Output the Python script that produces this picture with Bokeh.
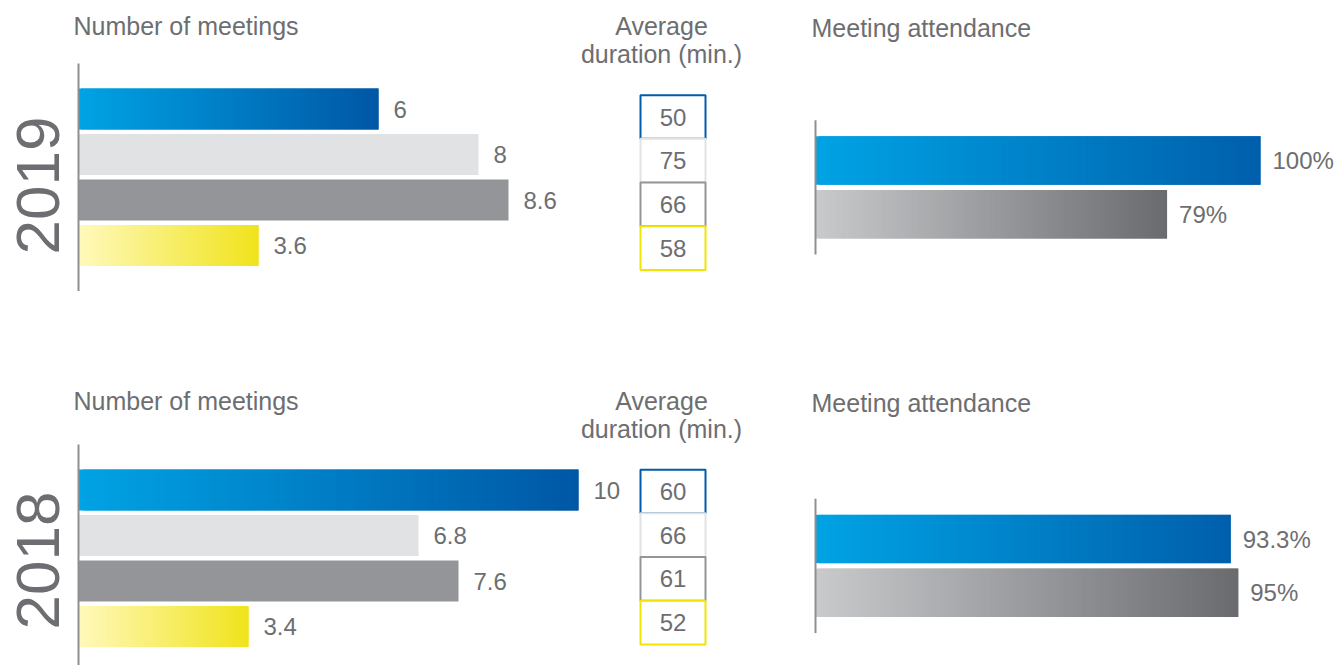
import numpy as np
from bokeh.plotting import figure
from bokeh.models import Range1d, Label
from bokeh.embed import file_html
from bokeh.resources import INLINE
from bokeh.core.properties import value

# ---- data -------------------------------------------------------------
years = ["2019", "2018"]
meetings_2019 = [6, 8, 8.6, 3.6]
meetings_2018 = [10, 6.8, 7.6, 3.4]
duration_2019 = [50, 75, 66, 58]
duration_2018 = [60, 66, 61, 52]
attendance_2019 = [100, 79]
attendance_2018 = [93.3, 95]

# ---- styles -----------------------------------------------------------
TEXT = "#6d6e71"
AXIS = "#8e8f92"
FONT_NAME = "Liberation Sans"
FONT = value(FONT_NAME)
meeting_fills = [("#00a3e4", "#0057a5"), ("#e1e2e4", "#e1e2e4"),
                 ("#939598", "#939598"), ("#fff9bb", "#f0e31c")]
duration_edges = ["#005baa", "#e1e2e4", "#939598", "#f0e400"]
attendance_fills = [("#00a3e4", "#005fac"), ("#c9cacc", "#6a6b6f")]

W, H = 1343, 665


def hx(c):
    c = c.lstrip("#")
    return np.array([int(c[i:i + 2], 16) for i in (0, 2, 4)], dtype=float)


def mix(c0, c1, t):
    r, g, b = (hx(c0) * (1 - t) + hx(c1) * t).round().astype(int)
    return f"#{r:02x}{g:02x}{b:02x}"


def x_axis_range(origin_px, px_per_unit):
    return Range1d(start=-origin_px / px_per_unit, end=(W - origin_px) / px_per_unit)


def y_rows_range(origin_px, px_per_unit):
    # row index grows downwards
    return Range1d(start=(H - origin_px) / px_per_unit, end=-origin_px / px_per_unit)


p = figure(width=W, height=H, output_backend="svg", toolbar_location=None,
           x_range=Range1d(0, W), y_range=Range1d(H, 0),
           x_axis_type=None, y_axis_type=None, min_border=0)
p.outline_line_color = None
p.background_fill_color = "white"
p.border_fill_color = "white"

p.extra_x_ranges = {
    "meet": x_axis_range(78, 50.0),
    "dur": x_axis_range(672.5, 65.0),
    "att": x_axis_range(815, 4.45),
}
p.extra_y_ranges = {
    "meet2019": y_rows_range(108.5, 45.5),
    "meet2018": y_rows_range(489.5, 45.5),
    "dur2019": y_rows_range(116.5, 43.7),
    "dur2018": y_rows_range(491.0, 43.7),
    "att2019": y_rows_range(160.0, 53.75),
    "att2018": y_rows_range(538.5, 53.75),
}


def bar(v, row, c0, c1, xr, yr, h=0.9, n=120):
    """Horizontal bar from 0 to v; a two-colour pair gives a left-to-right gradient."""
    if c0 == c1:
        p.quad(left=[0], right=[v], top=[row - h / 2], bottom=[row + h / 2],
               fill_color=c0, line_color=None, x_range_name=xr, y_range_name=yr)
        return
    edges = [v * i / n for i in range(n + 1)]
    cols = [mix(c0, c1, (i + 0.5) / n) for i in range(n)]
    # every strip reaches over its right neighbour so no gaps show between strips
    rights = [edges[min(i + 2, n)] for i in range(n)]
    p.quad(left=edges[:-1], right=rights, top=[row - h / 2] * n,
           bottom=[row + h / 2] * n, fill_color=cols, line_color=None,
           x_range_name=xr, y_range_name=yr)


def label_text(**kw):
    p.add_layout(Label(text_font=FONT_NAME, text_color=TEXT, **kw))


panels = [
    ("2019", meetings_2019, duration_2019, attendance_2019, 0),
    ("2018", meetings_2018, duration_2018, attendance_2018, 375),
]

for year, meet, dur, att, dy in panels:
    my, dyn, ay = f"meet{year}", f"dur{year}", f"att{year}"
    rows_m = list(range(len(meet)))
    rows_a = list(range(len(att)))

    # section titles
    label_text(x=73, y=25 + dy, text="Number of meetings", text_font_size="25px",
               text_baseline="middle", text_align="left")
    label_text(x=661, y=25 + dy, text="Average", text_font_size="25px",
               text_baseline="middle", text_align="center")
    label_text(x=661, y=53 + dy, text="duration (min.)", text_font_size="25px",
               text_baseline="middle", text_align="center")
    label_text(x=811, y=27 + dy, text="Meeting attendance", text_font_size="25px",
               text_baseline="middle", text_align="left")

    # year
    p.text(x=[37], y=[185 + dy], text=[year], angle=np.pi / 2,
           text_align="center", text_baseline="middle",
           text_font=FONT, text_font_size="62px", text_color=TEXT)

    # number of meetings
    for r, v in zip(rows_m, meet):
        c0, c1 = meeting_fills[r]
        bar(v, r, c0, c1, "meet", my)
    p.segment(x0=[0], x1=[0], y0=[-1], y1=[len(meet)], line_color=AXIS, line_width=2,
              x_range_name="meet", y_range_name=my)
    p.text(x=meet, y=rows_m, text=[f"{v:g}" for v in meet], x_offset=15,
           text_align="left", text_baseline="middle",
           text_font=FONT, text_font_size="24px", text_color=TEXT,
           x_range_name="meet", y_range_name=my)

    # average duration boxes
    p.rect(x=[0] * len(dur), y=rows_m, width=1, height=1, fill_color="white",
           line_color=duration_edges, line_width=2,
           x_range_name="dur", y_range_name=dyn)
    p.text(x=[0] * len(dur), y=rows_m, text=[f"{v:g}" for v in dur],
           text_align="center", text_baseline="middle",
           text_font=FONT, text_font_size="24px", text_color=TEXT,
           x_range_name="dur", y_range_name=dyn)

    # attendance
    for r, v in zip(rows_a, att):
        c0, c1 = attendance_fills[r]
        bar(v, r, c0, c1, "att", ay)
    p.segment(x0=[0], x1=[0], y0=[-0.75], y1=[len(att) - 0.25], line_color=AXIS,
              line_width=2, x_range_name="att", y_range_name=ay)
    p.text(x=att, y=rows_a, text=[f"{v:g}%" for v in att], x_offset=12,
           text_align="left", text_baseline="middle",
           text_font=FONT, text_font_size="24px", text_color=TEXT,
           x_range_name="att", y_range_name=ay)

open("out.html", "w").write(file_html(p, INLINE))
